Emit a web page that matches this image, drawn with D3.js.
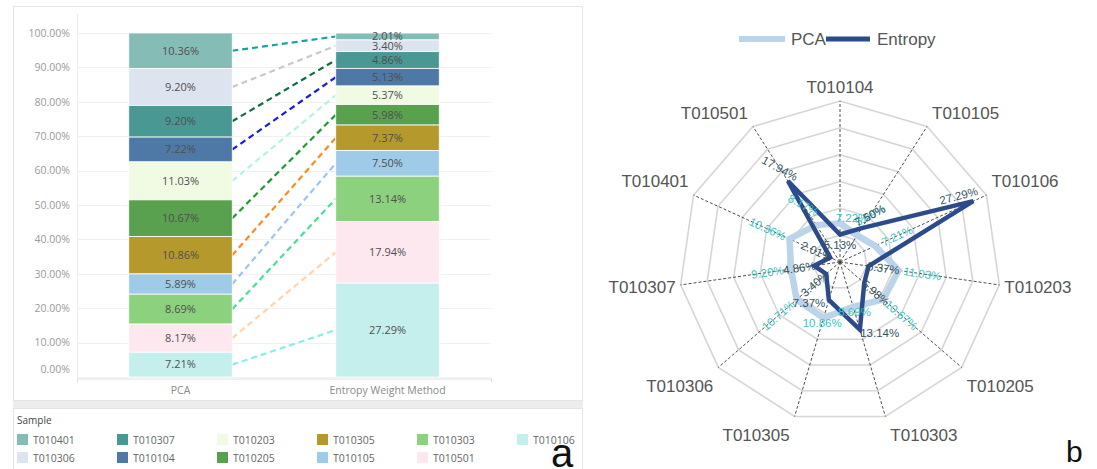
<!DOCTYPE html>
<html lang="en">
<head>
    <meta charset="UTF-8">
    <title>PCA vs Entropy Weight Method</title>
    <script src="https://d3js.org/d3.v7.min.js"></script>
    <style>
        body { margin: 0; background: #fff; }
        svg { display: block; }
        .tab text { font-family: 'Open Sans', sans-serif; }
        .radar text { font-family: 'Liberation Sans', Arial, sans-serif; }
    </style>
</head>
<body>
    <svg id="chart" width="1097" height="469"></svg>

    <script>
        // stack order, top to bottom (same as the legend, column by column)
        const samples = ["T010401", "T010306", "T010307", "T010104", "T010203", "T010205",
                         "T010305", "T010105", "T010303", "T010501", "T010106"];
        const pcaValues = [10.36, 10.71, 9.20, 7.22, 11.03, 10.67, 10.86, 5.89, 8.69, 8.17, 7.21];
        // labels as printed on the PCA bar
        const pcaBarLabels = ["10.36%", "9.20%", "9.20%", "7.22%", "11.03%", "10.67%",
                              "10.86%", "5.89%", "8.69%", "8.17%", "7.21%"];
        const entropyValues = [2.01, 3.40, 4.86, 5.13, 5.37, 5.98, 7.37, 7.50, 13.14, 17.94, 27.29];
        const methods = ["PCA", "Entropy Weight Method"];
        const yTicks = [0, 10, 20, 30, 40, 50, 60, 70, 80, 90, 100];

        const sampleColors = ["#86bcb6", "#dde3ef", "#499894", "#4e79a7", "#f1fbe4", "#59a14f",
                              "#b6992d", "#a0cbe8", "#8cd17d", "#fde8f0", "#c4efed"];
        const linkColors = ["#18a3a3", "#c8c8c8", "#116d3b", "#1818f0", "#b5f2e2", "#1a9b2a",
                            "#ff8a1f", "#9cc5f2", "#46e192", "#ffd3ae", "#82eef0"];

        // radar: axes clockwise from the top
        const radarAxes = ["T010104", "T010105", "T010106", "T010203", "T010205", "T010303",
                           "T010305", "T010306", "T010307", "T010401", "T010501"];
        const radarRings = [5, 10, 15, 20, 25, 30];
        const radarSeries = ["PCA", "Entropy"];

        const svg = d3.select("#chart");

        // ---------------- panel a ----------------
        const tab = svg.append("g").attr("class", "tab");

        tab.append("rect").attr("x", 13.5).attr("y", 6.5).attr("width", 569).attr("height", 394)
            .attr("fill", "#fff").attr("stroke", "#e4e4e4");
        tab.append("rect").attr("x", 13).attr("y", 401).attr("width", 570).attr("height", 7)
            .attr("fill", "#ededed");
        tab.append("rect").attr("x", 13.5).attr("y", 408.5).attr("width", 569).attr("height", 70)
            .attr("fill", "#fff").attr("stroke", "#e4e4e4");

        const x = d3.scaleBand().domain(methods).range([77, 491]).paddingInner(0.5).paddingOuter(0.25);
        const y = d3.scaleLinear().domain([0, 100]).range([377, 33]);

        // grid
        tab.append("g").selectAll("line").data(yTicks).join("line")
            .attr("x1", 77).attr("x2", 491)
            .attr("y1", d => Math.round(y(d)) + 0.5).attr("y2", d => Math.round(y(d)) + 0.5)
            .attr("stroke", "#f0f0f0");
        tab.append("line").attr("x1", 77.5).attr("x2", 77.5).attr("y1", 14).attr("y2", 379)
            .attr("stroke", "#ececec");

        // y axis labels (Tableau pulls the 0 label up inside the pane)
        const yAxis = tab.append("g").attr("transform", "translate(77,0)")
            .call(d3.axisLeft(y).tickValues(yTicks).tickFormat(d => d3.format(".2f")(d) + "%")
                .tickSize(0).tickPadding(7));
        yAxis.select(".domain").remove();
        yAxis.selectAll("text").attr("fill", "#9a9a9a").style("font-size", "10.5px")
            .attr("dy", d => d === 0 ? "-0.45em" : "0.32em");

        // x axis
        const xAxis = tab.append("g").attr("transform", "translate(0,378.5)")
            .call(d3.axisBottom(x).tickSizeInner(0).tickSizeOuter(4).tickPadding(8));
        xAxis.select(".domain").attr("stroke", "#e2e2e2");
        xAxis.selectAll("text").attr("fill", "#8a8a8a").style("font-size", "10.5px");

        // stacked segments
        function stackOf(values) {
            return values.map((v, i) => {
                const y0 = d3.sum(values.slice(i + 1));
                return { i, y0, y1: y0 + v, mid: y0 + v / 2 };
            });
        }
        const pcaStack = stackOf(pcaValues);
        const entStack = stackOf(entropyValues);

        // dashed links between the bars
        tab.append("g").selectAll("line").data(samples).join("line")
            .attr("x1", x(methods[0]) + x.bandwidth())
            .attr("y1", (d, i) => y(pcaStack[i].mid))
            .attr("x2", x(methods[1]))
            .attr("y2", (d, i) => y(entStack[i].mid))
            .attr("stroke", (d, i) => linkColors[i])
            .attr("stroke-width", 2.2)
            .attr("stroke-dasharray", "6,4");

        const columns = [
            { method: methods[0], stack: pcaStack, labels: pcaBarLabels },
            { method: methods[1], stack: entStack, labels: entropyValues.map(v => v.toFixed(2) + "%") }
        ];
        columns.forEach(col => {
            const g = tab.append("g");
            g.selectAll("rect").data(col.stack).join("rect")
                .attr("x", x(col.method))
                .attr("width", x.bandwidth())
                .attr("y", d => y(d.y1))
                .attr("height", d => y(d.y0) - y(d.y1))
                .attr("fill", d => sampleColors[d.i])
                .attr("stroke", "#fff").attr("stroke-width", 0.8);
            g.selectAll("text").data(col.stack).join("text")
                .attr("x", x(col.method) + x.bandwidth() / 2)
                .attr("y", d => y(d.mid))
                .attr("dy", "0.35em")
                .attr("text-anchor", "middle")
                .attr("fill", "#4f4f4f")
                .style("font-size", "11px")
                .text((d, i) => col.labels[i]);
        });

        // legend
        tab.append("text").attr("x", 17).attr("y", 424).attr("fill", "#444")
            .style("font-size", "10px").text("Sample");
        const leg = tab.append("g").selectAll("g").data(samples).join("g")
            .attr("transform", (d, i) => `translate(${17 + 100 * Math.floor(i / 2)},${434 + 18 * (i % 2)})`);
        leg.append("rect").attr("width", 11).attr("height", 11).attr("fill", (d, i) => sampleColors[i]);
        leg.append("text").attr("x", 16).attr("y", 6).attr("dy", "0.35em")
            .attr("fill", "#666").style("font-size", "10.5px").text(d => d);

        svg.append("text").attr("x", 551).attr("y", 467)
            .style("font-family", "'Liberation Sans', Arial, sans-serif").style("font-size", "40px")
            .attr("fill", "#111").text("a");

        // ---------------- panel b ----------------
        const radar = svg.append("g").attr("class", "radar");
        const cx = 840, cy = 262, R = 161;
        const r = d3.scaleLinear().domain([0, 30]).range([0, R]);
        const n = radarAxes.length;
        const ang = i => i * 2 * Math.PI / n;           // clockwise from top
        const pt = (i, rad) => [cx + rad * Math.sin(ang(i)), cy - rad * Math.cos(ang(i))];

        const ringLine = d3.line().curve(d3.curveLinearClosed);
        radar.append("g").selectAll("path").data(radarRings).join("path")
            .attr("d", v => ringLine(radarAxes.map((a, i) => pt(i, r(v)))))
            .attr("fill", "none").attr("stroke", "#d6d6d6").attr("stroke-width", 1.6);

        radar.append("g").selectAll("line").data(radarAxes).join("line")
            .attr("x1", cx).attr("y1", cy)
            .attr("x2", (d, i) => pt(i, R)[0]).attr("y2", (d, i) => pt(i, R)[1])
            .attr("stroke", "#3a3a3a").attr("stroke-width", 0.9).attr("stroke-dasharray", "3,2");

        const valueOf = (vals, name) => vals[samples.indexOf(name)];
        const seriesVals = [
            radarAxes.map(a => valueOf(pcaValues, a)),
            radarAxes.map(a => valueOf(entropyValues, a))
        ];
        const seriesStyle = [
            { stroke: "#bcd4ea", width: 6.5, label: "#3cc3bf", out: 24 },
            { stroke: "#2d4b8c", width: 4.5, label: "#34525f", out: 15 }
        ];

        seriesVals.forEach((vals, s) => {
            radar.append("path")
                .attr("d", ringLine(vals.map((v, i) => pt(i, r(v)))))
                .attr("fill", "none")
                .attr("stroke", seriesStyle[s].stroke)
                .attr("stroke-width", seriesStyle[s].width)
                .attr("stroke-linejoin", "miter");
        });

        // data labels, roughly where the spreadsheet put them
        function labelTransform(v, i, s) {
            const sn = Math.sin(ang(i));
            let a = i * 360 / n - 90;
            if (a > 90) a -= 180;
            const vertical = Math.abs(a) > 65;
            let rad = r(v) + seriesStyle[s].out, lat = 0, up = 0;
            if (v > 25) { rad = r(v) - 16; up = -12; }
            if (vertical) {
                if (s === 1) { rad = r(v) + (Math.abs(sn) < 0.05 ? -10 : 3); lat = Math.sign(sn) * 19; }
                else { rad = r(v) + 5; lat = Math.abs(sn) < 0.05 ? 12 : 0; }
            }
            const [px, py] = pt(i, rad);
            let rot = vertical ? 0 : Math.abs(a) > 50 ? a * 0.5 : a;
            if (v > 25) rot = a * 0.6;
            return `translate(${px + lat},${py + up}) rotate(${rot})`;
        }

        seriesVals.forEach((vals, s) => {
            radar.append("g").selectAll("text").data(vals).join("text")
                .attr("transform", (v, i) => labelTransform(v, i, s))
                .attr("text-anchor", "middle").attr("dy", "0.35em")
                .attr("fill", seriesStyle[s].label)
                .style("font-size", "11.5px")
                .text(v => v.toFixed(2) + "%");
        });

        // axis names
        radar.append("g").selectAll("text").data(radarAxes).join("text")
            .attr("x", (d, i) => {
                const s = Math.sin(ang(i));
                return pt(i, R)[0] + (s > 0.2 ? 5 : s < -0.2 ? -5 : 0);
            })
            .attr("y", (d, i) => {
                const c = Math.cos(ang(i));
                return pt(i, R)[1] + (Math.abs(c) < 0.3 ? 2 : c > 0 ? -14 : 19);
            })
            .attr("dy", "0.35em")
            .attr("text-anchor", (d, i) => {
                const s = Math.sin(ang(i));
                return s > 0.2 ? "start" : s < -0.2 ? "end" : "middle";
            })
            .attr("fill", "#555").style("font-size", "17px")
            .text(d => d);

        // legend
        const rl = radar.append("g").selectAll("g").data(radarSeries).join("g")
            .attr("transform", (d, i) => `translate(${739 + 87 * i},39)`);
        rl.append("line").attr("x1", 0).attr("x2", (d, i) => i ? 44 : 46)
            .attr("stroke", (d, i) => seriesStyle[i].stroke)
            .attr("stroke-width", (d, i) => i ? 5 : 6);
        rl.append("text").attr("x", (d, i) => i ? 51 : 52).attr("dy", "0.35em")
            .attr("fill", "#555").style("font-size", "17px").text(d => d);

        svg.append("text").attr("x", 1066).attr("y", 462)
            .style("font-family", "'Liberation Sans', Arial, sans-serif").style("font-size", "30px")
            .attr("fill", "#111").text("b");
    </script>
</body>
</html>
